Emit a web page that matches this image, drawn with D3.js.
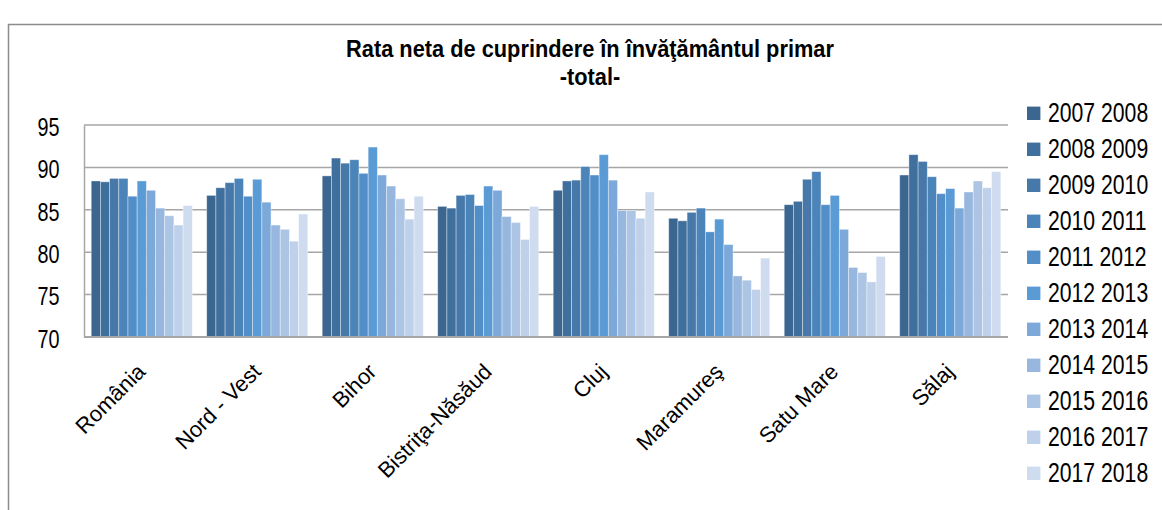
<!DOCTYPE html>
<html>
<head>
<meta charset="utf-8">
<script src="https://cdn.jsdelivr.net/npm/d3@7"></script>
<style>
  body { margin: 0; background: #fff; }
  text { font-family: "Liberation Sans", Arial, sans-serif; fill: #000; }
</style>
</head>
<body>
<svg id="chart"></svg>
<script>
const width = 1162;
const height = 510;

// categorii (judete / regiuni)
const categories = ["România", "Nord - Vest", "Bihor", "Bistriţa-Năsăud", "Cluj", "Maramureş", "Satu Mare", "Sălaj"];

// ani scolari (seriile)
const years = ["2007 2008", "2008 2009", "2009 2010", "2010 2011", "2011 2012", "2012 2013",
  "2013 2014", "2014 2015", "2015 2016", "2016 2017", "2017 2018"];

// valori pe categorie, in ordinea anilor
const romania   = [88.4, 88.3, 88.7, 88.7, 86.6, 88.4, 87.3, 85.2, 84.3, 83.2, 85.5];
const nordVest  = [86.7, 87.6, 88.2, 88.7, 86.6, 88.6, 85.9, 83.2, 82.7, 81.3, 84.5];
const bihor     = [89.0, 91.1, 90.5, 90.9, 89.3, 92.4, 89.1, 87.8, 86.3, 83.9, 86.6];
const bistrita  = [85.4, 85.2, 86.7, 86.8, 85.5, 87.8, 87.3, 84.2, 83.5, 81.5, 85.4];
const cluj      = [87.3, 88.4, 88.5, 90.1, 89.1, 91.5, 88.5, 84.9, 84.9, 84.0, 87.1];
const maramures = [84.0, 83.7, 84.7, 85.2, 82.4, 83.9, 80.9, 77.2, 76.7, 75.6, 79.3];
const satuMare  = [85.6, 86.0, 88.6, 89.5, 85.6, 86.7, 82.7, 78.2, 77.6, 76.5, 79.5];
const salaj     = [89.1, 91.5, 90.7, 88.9, 86.9, 87.5, 85.2, 87.1, 88.4, 87.6, 89.5];

const values = [romania, nordVest, bihor, bistrita, cluj, maramures, satuMare, salaj];

const yTicks = [70, 75, 80, 85, 90, 95];

const colors = ["#3a6690", "#3f6f9d", "#4679aa", "#4b84b8", "#528fc8", "#5a9bd5",
  "#7ca9da", "#97b7df", "#adc5e5", "#bfd1ea", "#cfdcef"];

const svg = d3.select("#chart")
  .attr("width", width)
  .attr("height", height);

// chenar exterior
svg.append("rect")
  .attr("x", 8.5).attr("y", 24.5)
  .attr("width", width + 10).attr("height", height)
  .attr("fill", "none")
  .attr("stroke", "#8c8c8c")
  .attr("stroke-width", 1.5);

const plot = { left: 84, right: 1008, top: 125, bottom: 337 };

const x0 = d3.scaleBand()
  .domain(categories)
  .range([plot.left, plot.right])
  .paddingInner(0.125)
  .paddingOuter(0.0625);

const x1 = d3.scaleBand()
  .domain(years)
  .range([0, x0.bandwidth()]);

const y = d3.scaleLinear()
  .domain([70, 95])
  .range([plot.bottom, plot.top]);

const color = d3.scaleOrdinal().domain(years).range(colors);

// grila
svg.append("g")
  .selectAll("line")
  .data(yTicks)
  .join("line")
  .attr("x1", plot.left).attr("x2", plot.right)
  .attr("y1", d => y(d)).attr("y2", d => y(d))
  .attr("stroke", "#a6a6a6")
  .attr("stroke-width", 1.5);

// axa y (textul e putin alungit pe verticala, ca in original)
const yAxis = svg.append("g")
  .attr("transform", `translate(${plot.left},0)`)
  .call(d3.axisLeft(y).tickValues(yTicks).tickSize(0).tickFormat(""));
yAxis.select(".domain").attr("stroke", "#a6a6a6").attr("stroke-width", 1.5);

svg.append("g")
  .selectAll("text")
  .data(yTicks)
  .join("text")
  .attr("transform", d => `translate(59.5,${y(d) + 1.5}) scale(1,1.3)`)
  .attr("text-anchor", "end")
  .attr("dy", "0.36em")
  .style("font-size", "19.8px")
  .text(d => d);

// bare
const groups = svg.append("g")
  .selectAll("g")
  .data(categories)
  .join("g")
  .attr("transform", d => `translate(${x0(d)},0)`);

groups.selectAll("rect")
  .data((d, i) => years.map((yr, j) => ({ yr, v: values[i][j] })))
  .join("rect")
  .attr("x", d => x1(d.yr))
  .attr("y", d => y(d.v))
  .attr("width", x1.bandwidth())
  .attr("height", d => y(70) - y(d.v))
  .attr("fill", d => color(d.yr))
  .attr("stroke", "rgba(255,255,255,0.45)")
  .attr("stroke-width", 0.8);

// axa x
svg.append("line")
  .attr("x1", plot.left).attr("x2", plot.right)
  .attr("y1", y(70)).attr("y2", y(70))
  .attr("stroke", "#a6a6a6")
  .attr("stroke-width", 2);

// etichete categorii, rotite
svg.append("g")
  .selectAll("text")
  .data(categories)
  .join("text")
  .attr("transform", d => `translate(${x0(d) + x0.bandwidth() / 2 + 5},${plot.bottom + 36}) rotate(-45)`)
  .attr("text-anchor", "end")
  .style("font-size", "22px")
  .text(d => d);

// titlu
const title = svg.append("g")
  .attr("transform", `translate(590,0)`);
title.append("text")
  .attr("transform", "translate(0,56.7) scale(1,1.12)")
  .attr("text-anchor", "middle")
  .style("font-size", "21.8px")
  .style("font-weight", "bold")
  .text("Rata neta de cuprindere în învăţământul primar");
title.append("text")
  .attr("transform", "translate(0,85) scale(1,1.12)")
  .attr("text-anchor", "middle")
  .style("font-size", "21.8px")
  .style("font-weight", "bold")
  .text("-total-");

// legenda
const legend = svg.append("g")
  .selectAll("g")
  .data(years)
  .join("g")
  .attr("transform", (d, i) => `translate(1027,${113.3 + i * 36})`);

legend.append("rect")
  .attr("y", -6.7)
  .attr("width", 13.4).attr("height", 13.4)
  .attr("fill", d => color(d));

legend.append("text")
  .attr("transform", "translate(21,8.4) scale(1,1.27)")
  .style("font-size", "21.2px")
  .text(d => d);
</script>
</body>
</html>
